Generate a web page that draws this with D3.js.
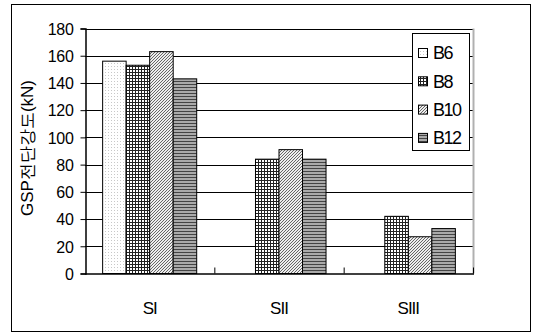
<!DOCTYPE html>
<html><head><meta charset="utf-8">
<script src="https://cdn.jsdelivr.net/npm/d3@7"></script>
<style>
body{margin:0;background:#fff;}
svg{display:block;}
text{font-family:"Liberation Sans",Arial,sans-serif;fill:#000;}
</style></head>
<body><svg id="c" width="534" height="333"></svg>
<script>
const categories = ["SI","SII","SIII"];
const seriesNames = ["B6","B8","B10","B12"];
const B6  = [156, 0, 0];
const B8  = [153, 84, 42];
const B10 = [163, 91, 27];
const B12 = [143, 84, 33];
const yTicks = [0,20,40,60,80,100,120,140,160,180];
const yTitle = "GSP전단강도(kN)";

const seriesVals = [B6,B8,B10,B12];
const svg = d3.select("#c");
const defs = svg.append("defs");

// patterns
const p6 = defs.append("pattern").attr("id","p0").attr("width",3).attr("height",3).attr("patternUnits","userSpaceOnUse");
p6.append("rect").attr("width",3).attr("height",3).attr("fill","#fff");
p6.append("rect").attr("width",1).attr("height",1).attr("fill","#c8c8c8");
const p8 = defs.append("pattern").attr("id","p1").attr("width",3).attr("height",3).attr("patternUnits","userSpaceOnUse");
p8.append("rect").attr("width",3).attr("height",3).attr("fill","#fff");
p8.append("rect").attr("width",3).attr("height",1).attr("fill","#222");
p8.append("rect").attr("width",1).attr("height",3).attr("fill","#222");
const p10 = defs.append("pattern").attr("id","p2").attr("width",3).attr("height",3).attr("patternUnits","userSpaceOnUse");
p10.append("rect").attr("width",3).attr("height",3).attr("fill","#eee");
p10.append("path").attr("d","M0,3 L3,0 M-1,1 L1,-1 M2,4 L4,2").attr("stroke","#666").attr("stroke-width",1);
const p12 = defs.append("pattern").attr("id","p3").attr("width",3).attr("height",3).attr("patternUnits","userSpaceOnUse");
p12.append("rect").attr("width",3).attr("height",3).attr("fill","#aaa");
p12.append("rect").attr("width",3).attr("height",1).attr("fill","#444");

// outer border
svg.append("rect").attr("x",11.5).attr("y",4.5).attr("width",519).attr("height",327)
  .attr("fill","#fff").attr("stroke","#000");

const L=85, R=473, T=28.5, B=273.5;
const y = d3.scaleLinear().domain([0,180]).range([B,T]);
const x0 = d3.scaleBand().domain(categories).range([L,R]).paddingInner(0).paddingOuter(0);
const bw = x0.bandwidth()/5.5;
const x1 = d3.scaleBand().domain(seriesNames).range([bw*0.75, bw*4.75]).padding(0);

// gridlines
svg.append("g").selectAll("line").data(yTicks.filter(d=>d>0)).join("line")
  .attr("x1",L).attr("x2",R).attr("y1",d=>Math.round(y(d))+0.5).attr("y2",d=>Math.round(y(d))+0.5)
  .attr("stroke","#000").attr("stroke-width",1);
// plot right border
svg.append("line").attr("x1",R+0.5).attr("x2",R+0.5).attr("y1",T).attr("y2",B).attr("stroke","#b0b0b0").attr("stroke-width",2);

// bars
categories.forEach((c,ci)=>{
  seriesNames.forEach((s,si)=>{
    const v = seriesVals[si][ci];
    if(!v) return;
    svg.append("rect")
      .attr("x",x0(c)+x1(s)).attr("y",y(v)).attr("width",x1.bandwidth()).attr("height",B-y(v))
      .attr("fill",`url(#p${si})`).attr("stroke","#000").attr("stroke-width",1);
  });
});

// y axis
const ya = svg.append("g").attr("transform",`translate(${L+0.5},0)`)
  .call(d3.axisLeft(y).tickValues(yTicks).tickSize(5).tickPadding(7));
ya.select(".domain").attr("stroke","#000").attr("stroke-width",1.5);
ya.selectAll("line").attr("stroke","#000");
ya.selectAll("text").style("font-size","16px").style("letter-spacing","-0.3px").attr("dy","0.36em");

// x axis
svg.append("line").attr("x1",L).attr("x2",R+1).attr("y1",B+0.5).attr("y2",B+0.5).attr("stroke","#000").attr("stroke-width",1.5);
svg.append("g").selectAll("line").data(categories.slice(1).map(c=>x0(c)).concat([R])).join("line")
  .attr("x1",d=>d+0.5).attr("x2",d=>d+0.5).attr("y1",B).attr("y2",B-6).attr("stroke","#000");
svg.append("g").selectAll("text").data(categories).join("text")
  .attr("x",d=>x0(d)+x0.bandwidth()/2).attr("y",314).attr("text-anchor","middle")
  .style("font-size","17px").style("letter-spacing","-1px").text(d=>d);

// y title
svg.append("text").attr("transform","translate(33,148) rotate(-90)").attr("text-anchor","middle")
  .style("font-size","17px").text(yTitle);

// legend
const lg = svg.append("g");
lg.append("rect").attr("x",412.5).attr("y",33.5).attr("width",57).attr("height",117).attr("fill","#fff").attr("stroke","#000");
seriesNames.forEach((s,i)=>{
  const cy = 53 + i*28.3;
  lg.append("rect").attr("x",418.5).attr("y",cy-4.5).attr("width",9).attr("height",9).attr("fill",`url(#p${i})`).attr("stroke","#000");
  lg.append("text").attr("x",433).attr("y",cy).attr("dy","0.36em").style("font-size","18px").style("letter-spacing","-1.5px").text(s);
});
</script></body></html>
